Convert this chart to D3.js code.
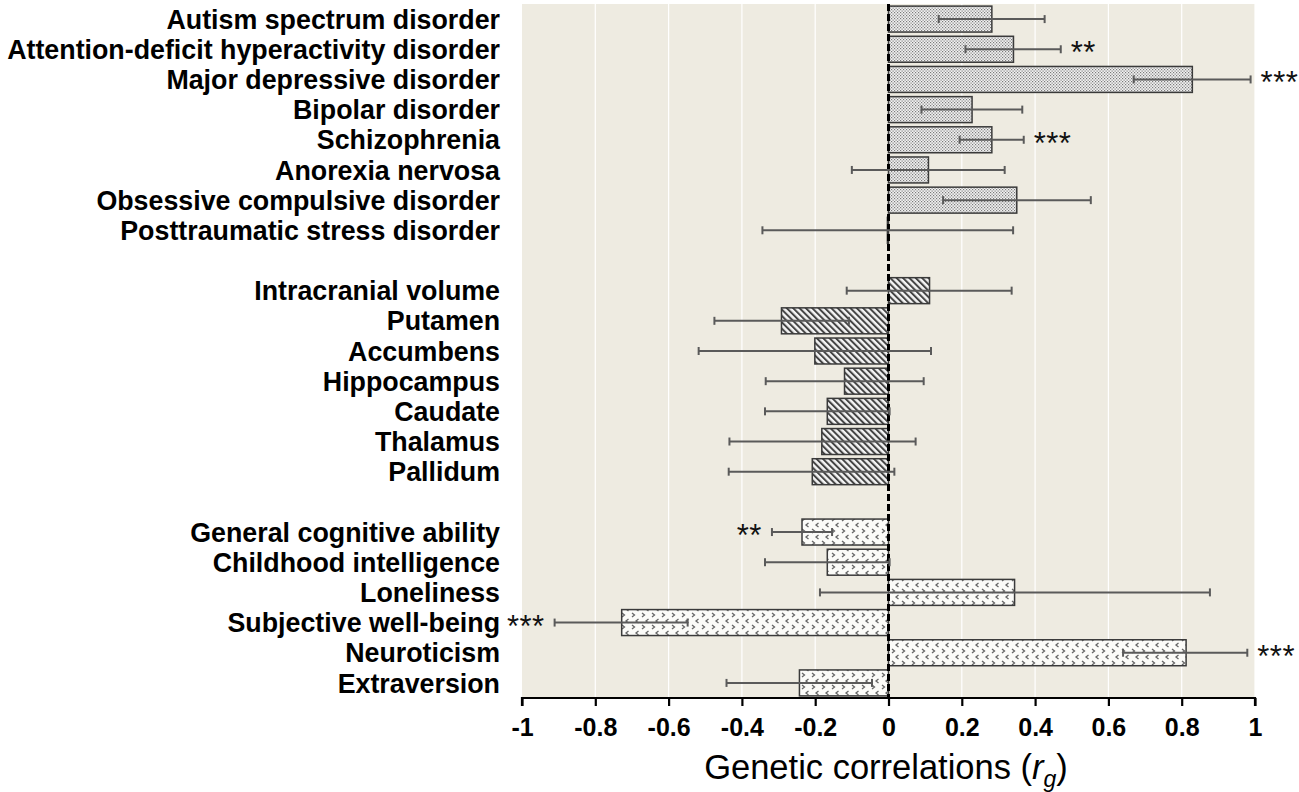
<!DOCTYPE html>
<html><head><meta charset="utf-8">
<script src="https://cdn.jsdelivr.net/npm/d3@7"></script>
<style>body{margin:0;background:#fff;}svg{display:block;}</style>
</head><body>
<svg id="chart" width="1299" height="792"></svg>
<script>
const categories = ["Autism spectrum disorder","Attention-deficit hyperactivity disorder","Major depressive disorder","Bipolar disorder","Schizophrenia","Anorexia nervosa","Obsessive compulsive disorder","Posttraumatic stress disorder","gap1","Intracranial volume","Putamen","Accumbens","Hippocampus","Caudate","Thalamus","Pallidum","gap2","General cognitive ability","Childhood intelligence","Loneliness","Subjective well-being","Neuroticism","Extraversion"];
const groups = ["psy","psy","psy","psy","psy","psy","psy","psy",null,"brain","brain","brain","brain","brain","brain","brain",null,"trait","trait","trait","trait","trait","trait"];
const values = [0.282,0.341,0.829,0.228,0.282,0.109,0.350,-0.003,null,0.112,-0.292,-0.201,-0.120,-0.167,-0.182,-0.208,null,-0.236,-0.167,0.344,-0.728,0.812,-0.243];
const errLow = [0.137,0.210,0.669,0.090,0.194,-0.100,0.149,-0.344,null,-0.114,-0.475,-0.518,-0.335,-0.337,-0.434,-0.436,null,-0.318,-0.337,-0.187,-0.911,0.640,-0.442];
const errHigh = [0.426,0.470,0.988,0.365,0.369,0.317,0.552,0.340,null,0.336,-0.108,0.116,0.096,0.003,0.074,0.016,null,-0.154,0.003,0.877,-0.548,0.979,-0.045];
const stars = ["","**","***","","***","","","",null,"","","","","","","",null,"**","","","***","***",""];
const xTicks = [-1,-0.8,-0.6,-0.4,-0.2,0,0.2,0.4,0.6,0.8,1];
const xTickLabels = ["-1","-0.8","-0.6","-0.4","-0.2","0","0.2","0.4","0.6","0.8","1"];

const svg = d3.select("#chart");
const pL = 522, pR = 1255, pT = 4, pB = 698;
const x = d3.scaleLinear().domain([-1,1]).range([pL,pR]);
const y = d3.scaleBand().domain(categories).range([pT,pB]).paddingInner(0.14).paddingOuter(0.07);

const defs = svg.append("defs");
const p1 = defs.append("pattern").attr("id","pDot").attr("patternUnits","userSpaceOnUse").attr("width",3).attr("height",3);
p1.append("rect").attr("width",3).attr("height",3).attr("fill","#f2f2f2");
p1.append("rect").attr("x",0).attr("y",0).attr("width",1.2).attr("height",1.2).attr("fill","#7a7a7a");
p1.append("rect").attr("x",1.5).attr("y",1.5).attr("width",1.2).attr("height",1.2).attr("fill","#7a7a7a");
const p2 = defs.append("pattern").attr("id","pHatch").attr("patternUnits","userSpaceOnUse").attr("width",4.5).attr("height",4.5).attr("patternTransform","rotate(-45)");
p2.append("rect").attr("width",4.5).attr("height",4.5).attr("fill","#f4f4f4");
p2.append("rect").attr("x",0).attr("y",0).attr("width",2).attr("height",4.5).attr("fill","#444");
const p3 = defs.append("pattern").attr("id","pChev").attr("patternUnits","userSpaceOnUse").attr("width",10).attr("height",12);
p3.append("rect").attr("width",10).attr("height",12).attr("fill","#fbfbf8");
p3.append("path").attr("d","M2,1 L4.5,3 L2,5").attr("fill","none").attr("stroke","#666").attr("stroke-width",1.3);
p3.append("path").attr("d","M8.5,7 L6,9 L8.5,11").attr("fill","none").attr("stroke","#666").attr("stroke-width",1.3);
const fillFor = {psy:"url(#pDot)", brain:"url(#pHatch)", trait:"url(#pChev)"};

svg.append("rect").attr("x",pL).attr("y",pT).attr("width",pR-pL).attr("height",pB-pT).attr("fill","#eeebe1");
svg.append("g").selectAll("line").data(xTicks.filter(d=>d!==-1&&d!==0)).join("line")
  .attr("x1",d=>x(d)).attr("x2",d=>x(d)).attr("y1",pT).attr("y2",pB)
  .attr("stroke","#ffffff").attr("stroke-width",1.2);

const rows = categories.map((c,i)=>({c,i,g:groups[i],v:values[i],lo:errLow[i],hi:errHigh[i],s:stars[i]})).filter(d=>d.g);

svg.append("g").selectAll("rect").data(rows).join("rect")
  .attr("x",d=>x(Math.min(0,d.v))).attr("y",d=>y(d.c))
  .attr("width",d=>Math.abs(x(d.v)-x(0))).attr("height",y.bandwidth())
  .attr("fill",d=>fillFor[d.g]).attr("stroke","#3a3a3a").attr("stroke-width",1.5);

svg.append("line").attr("x1",x(0)).attr("x2",x(0)).attr("y1",pT).attr("y2",pB)
  .attr("stroke","#000").attr("stroke-width",3).attr("stroke-dasharray","7,3");

const eb = svg.append("g").attr("stroke","#5a5a5a").attr("stroke-width",2);
eb.selectAll("line.h").data(rows).join("line").attr("class","h")
  .attr("x1",d=>x(d.lo)).attr("x2",d=>x(d.hi))
  .attr("y1",d=>y(d.c)+y.bandwidth()/2).attr("y2",d=>y(d.c)+y.bandwidth()/2);
eb.selectAll("line.cl").data(rows).join("line").attr("class","cl")
  .attr("x1",d=>x(d.lo)).attr("x2",d=>x(d.lo))
  .attr("y1",d=>y(d.c)+y.bandwidth()/2-4).attr("y2",d=>y(d.c)+y.bandwidth()/2+4);
eb.selectAll("line.ch").data(rows).join("line").attr("class","ch")
  .attr("x1",d=>x(d.hi)).attr("x2",d=>x(d.hi))
  .attr("y1",d=>y(d.c)+y.bandwidth()/2-4).attr("y2",d=>y(d.c)+y.bandwidth()/2+4);

svg.append("g").selectAll("text").data(rows.filter(d=>d.s)).join("text")
  .attr("x",d=> d.v>=0 ? x(d.hi)+10 : x(d.lo)-10)
  .attr("y",d=>y(d.c)+y.bandwidth()/2+14)
  .attr("text-anchor",d=>d.v>=0?"start":"end")
  .attr("font-family","Liberation Sans, Arial, sans-serif").attr("font-size",31)
  .attr("letter-spacing",0.5)
  .attr("fill","#111").text(d=>d.s);

svg.append("g").selectAll("text").data(rows).join("text")
  .attr("x",500).attr("y",d=>y(d.c)+y.bandwidth()/2)
  .attr("dy","0.36em").attr("text-anchor","end")
  .attr("font-family","Liberation Sans, Arial, sans-serif").attr("font-weight","bold").attr("font-size",26.8)
  .attr("fill","#000").text(d=>d.c);

const axis = d3.axisBottom(x).tickValues(xTicks).tickFormat((d,i)=>xTickLabels[i]).tickSize(8).tickPadding(12);
const gx = svg.append("g").attr("transform",`translate(0,${pB})`).call(axis);
gx.select(".domain").attr("stroke","#000").attr("stroke-width",2.2).attr("d",`M${pL},8V0H${pR}V8`);
gx.selectAll(".tick line").attr("stroke","#000").attr("stroke-width",2.2);
gx.selectAll(".tick text").attr("font-family","Liberation Sans, Arial, sans-serif").attr("font-weight","bold").attr("font-size",25).attr("fill","#000");

const t = svg.append("text").attr("x",886).attr("y",779).attr("text-anchor","middle")
  .attr("font-family","Liberation Sans, Arial, sans-serif").attr("font-size",34.5).attr("fill","#000");
t.append("tspan").text("Genetic correlations (");
t.append("tspan").attr("font-style","italic").text("r");
t.append("tspan").attr("font-style","italic").attr("font-size",23).attr("dy",8).text("g");
t.append("tspan").attr("dy",-8).text(")");
</script>
</body></html>
